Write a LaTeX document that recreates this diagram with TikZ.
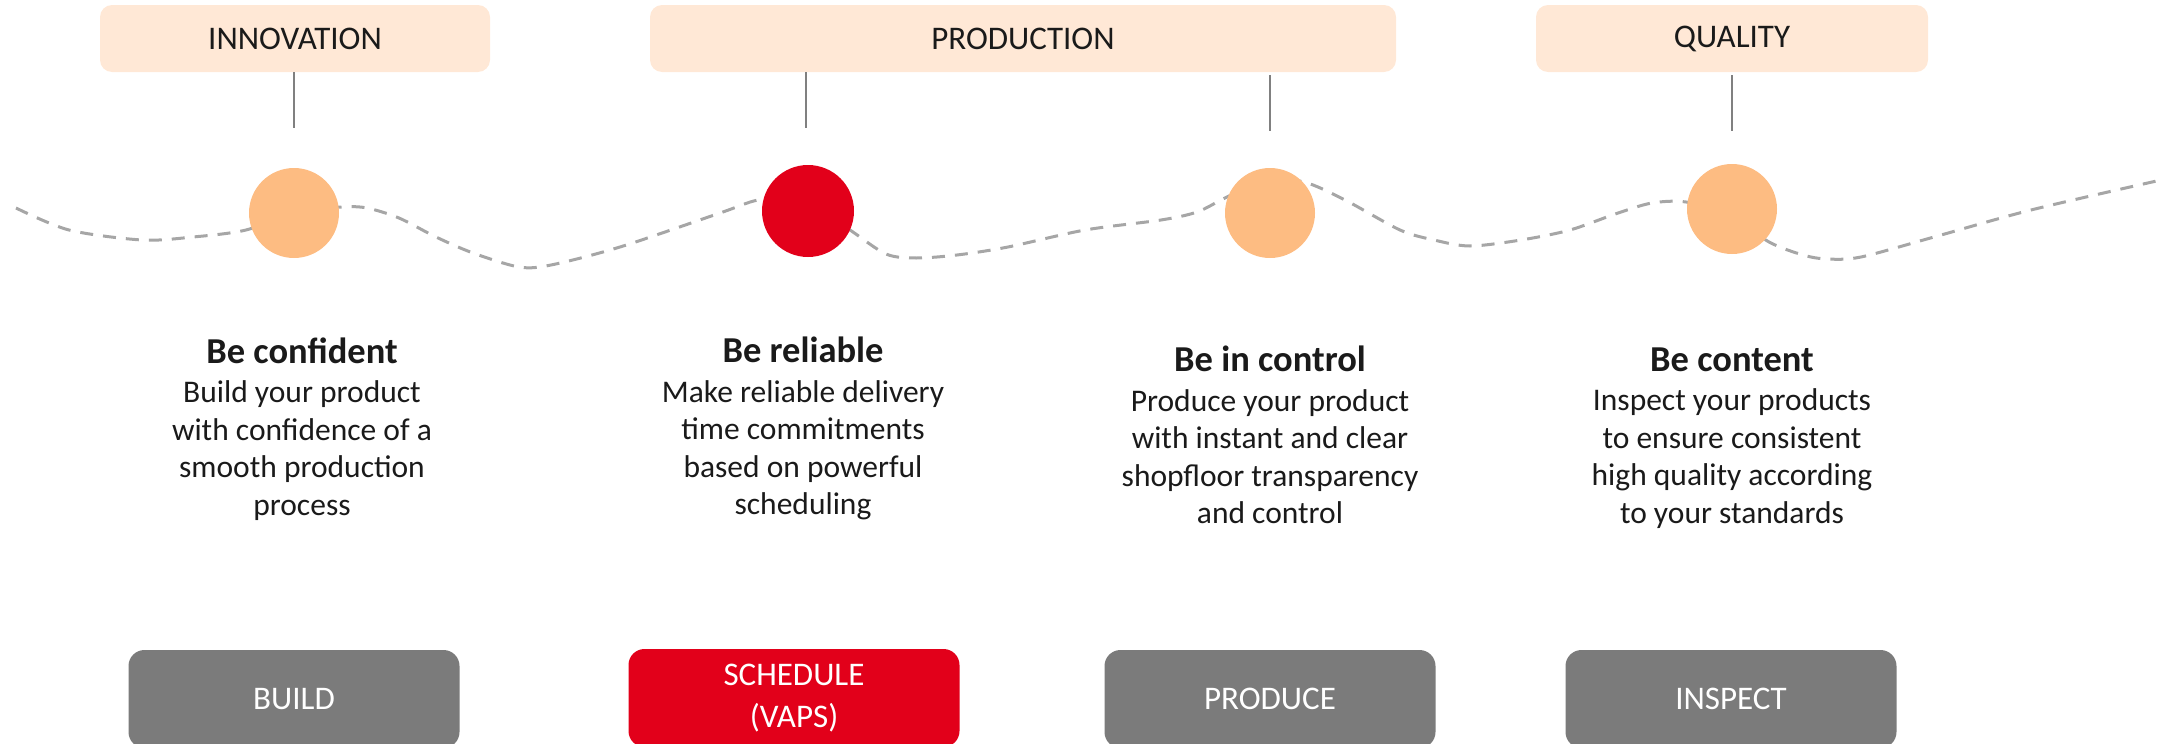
\documentclass[tikz,border=0pt]{standalone}
\usepackage{fontspec}
\setmainfont{Carlito}
\definecolor{peach}{HTML}{FFE8D6}
\definecolor{dotorange}{HTML}{FDBC82}
\definecolor{brandred}{HTML}{E2001A}
\definecolor{boxgray}{HTML}{7B7B7B}
\definecolor{wavegray}{HTML}{A6A6A6}
\definecolor{linegray}{HTML}{808080}
\definecolor{ink}{HTML}{1A1A1A}
\begin{document}
\begin{tikzpicture}[x=1pt,y=-1pt,
  topbox/.style={rectangle, rounded corners=12pt, fill=peach, minimum height=67pt,
    inner sep=0pt, text=ink, font=\fontsize{33}{40}\selectfont},
  btmbox/.style={rectangle, rounded corners=16pt, fill=boxgray, minimum width=331pt,
    minimum height=98pt, inner sep=0pt, text=white, align=center,
    font=\fontsize{33}{41.5}\selectfont},
  dot/.style={circle, inner sep=0pt, minimum size=90pt, fill=dotorange},
  head/.style={anchor=base, inner sep=0pt, text=ink, font=\fontsize{36.5}{40}\selectfont\bfseries},
  body/.style={anchor=base, inner sep=0pt, text=ink, align=center, font=\fontsize{31.5}{37.5}\selectfont},
  vline/.style={draw=linegray, line width=1.5pt},
  wave/.style={draw=wavegray, line width=3pt, dash pattern=on 13pt off 10pt}]
\useasboundingbox (0,0) rectangle (2161,744);
% dashed wave (behind the dots)
\draw[wave] plot[smooth, tension=0.5] coordinates {
 (16,208) (69,230) (142,240) (193,237) (246,230) (294,212) (342,207) (367,208)
 (399,218) (436,237) (473,253) (519,267) (551,265) (620,247) (720,213) (758,200)
 (800,197) (850,230) (886,254) (916,258) (957,255) (1008,247) (1085,230) (1161,220)
 (1197,212) (1225,198) (1265,180) (1304,182) (1345,200) (1400,230) (1434,240)
 (1470,246) (1521,240) (1570,230) (1618,213) (1652,203) (1686,202) (1730,215)
 (1769,242) (1803,255) (1827,259) (1861,257) (1934,237) (2031,210) (2161,180)};
% dots
\node[dot] (c1) at (294,213) {};
\node[dot, fill=brandred, minimum size=92pt] (c2) at (808,211) {};
\node[dot] (c3) at (1270,213) {};
\node[dot] (c4) at (1732,209) {};
% top category boxes
\node[topbox, minimum width=390pt] (innov) at (295,38.5) {INNOVATION};
\node[topbox, minimum width=746pt] (prod) at (1023,38.5) {PRODUCTION};
\node[topbox, minimum width=392pt] (qual) at (1732,38.5) {QUALITY};
% connector ends
\coordinate (e1) at (294,128);
\coordinate (e2) at (806,128);
\coordinate (e3) at (1270,131);
\coordinate (e4) at (1732,131);
\draw[vline] (innov.south -| e1) -- (e1);
\draw[vline] (prod.south -| e2) -- (e2);
\draw[vline] ([yshift=-3pt]prod.south -| e3) -- (e3);
\draw[vline] ([yshift=-3pt]qual.south -| e4) -- (e4);
% headings and descriptions (body anchored at the baseline of its last line)
\node[head] (h1) at (302,363) {Be confident};
\node[body] (d1) at (302,515) {Build your product\\with confidence of a\\smooth production\\process};
\node[head] (h2) at (803,362) {Be reliable};
\node[body] (d2) at (803,514.5) {Make reliable delivery\\time commitments\\based on powerful\\scheduling};
\node[head] (h3) at (1270,371.5) {Be in control};
\node[body] (d3) at (1270,523.5) {Produce your product\\with instant and clear\\shopfloor transparency\\and control};
\node[head] (h4) at (1732,371) {Be content};
\node[body] (d4) at (1732,523) {Inspect your products\\to ensure consistent\\high quality according\\to your standards};
% bottom boxes
\node[btmbox] (build) at (294,699) {BUILD};
\node[btmbox, fill=brandred] (sched) at (794,698) {SCHEDULE\\(VAPS)};
\node[btmbox] (produce) at (1270,699) {PRODUCE};
\node[btmbox] (inspect) at (1731,699) {INSPECT};
\end{tikzpicture}
\end{document}
